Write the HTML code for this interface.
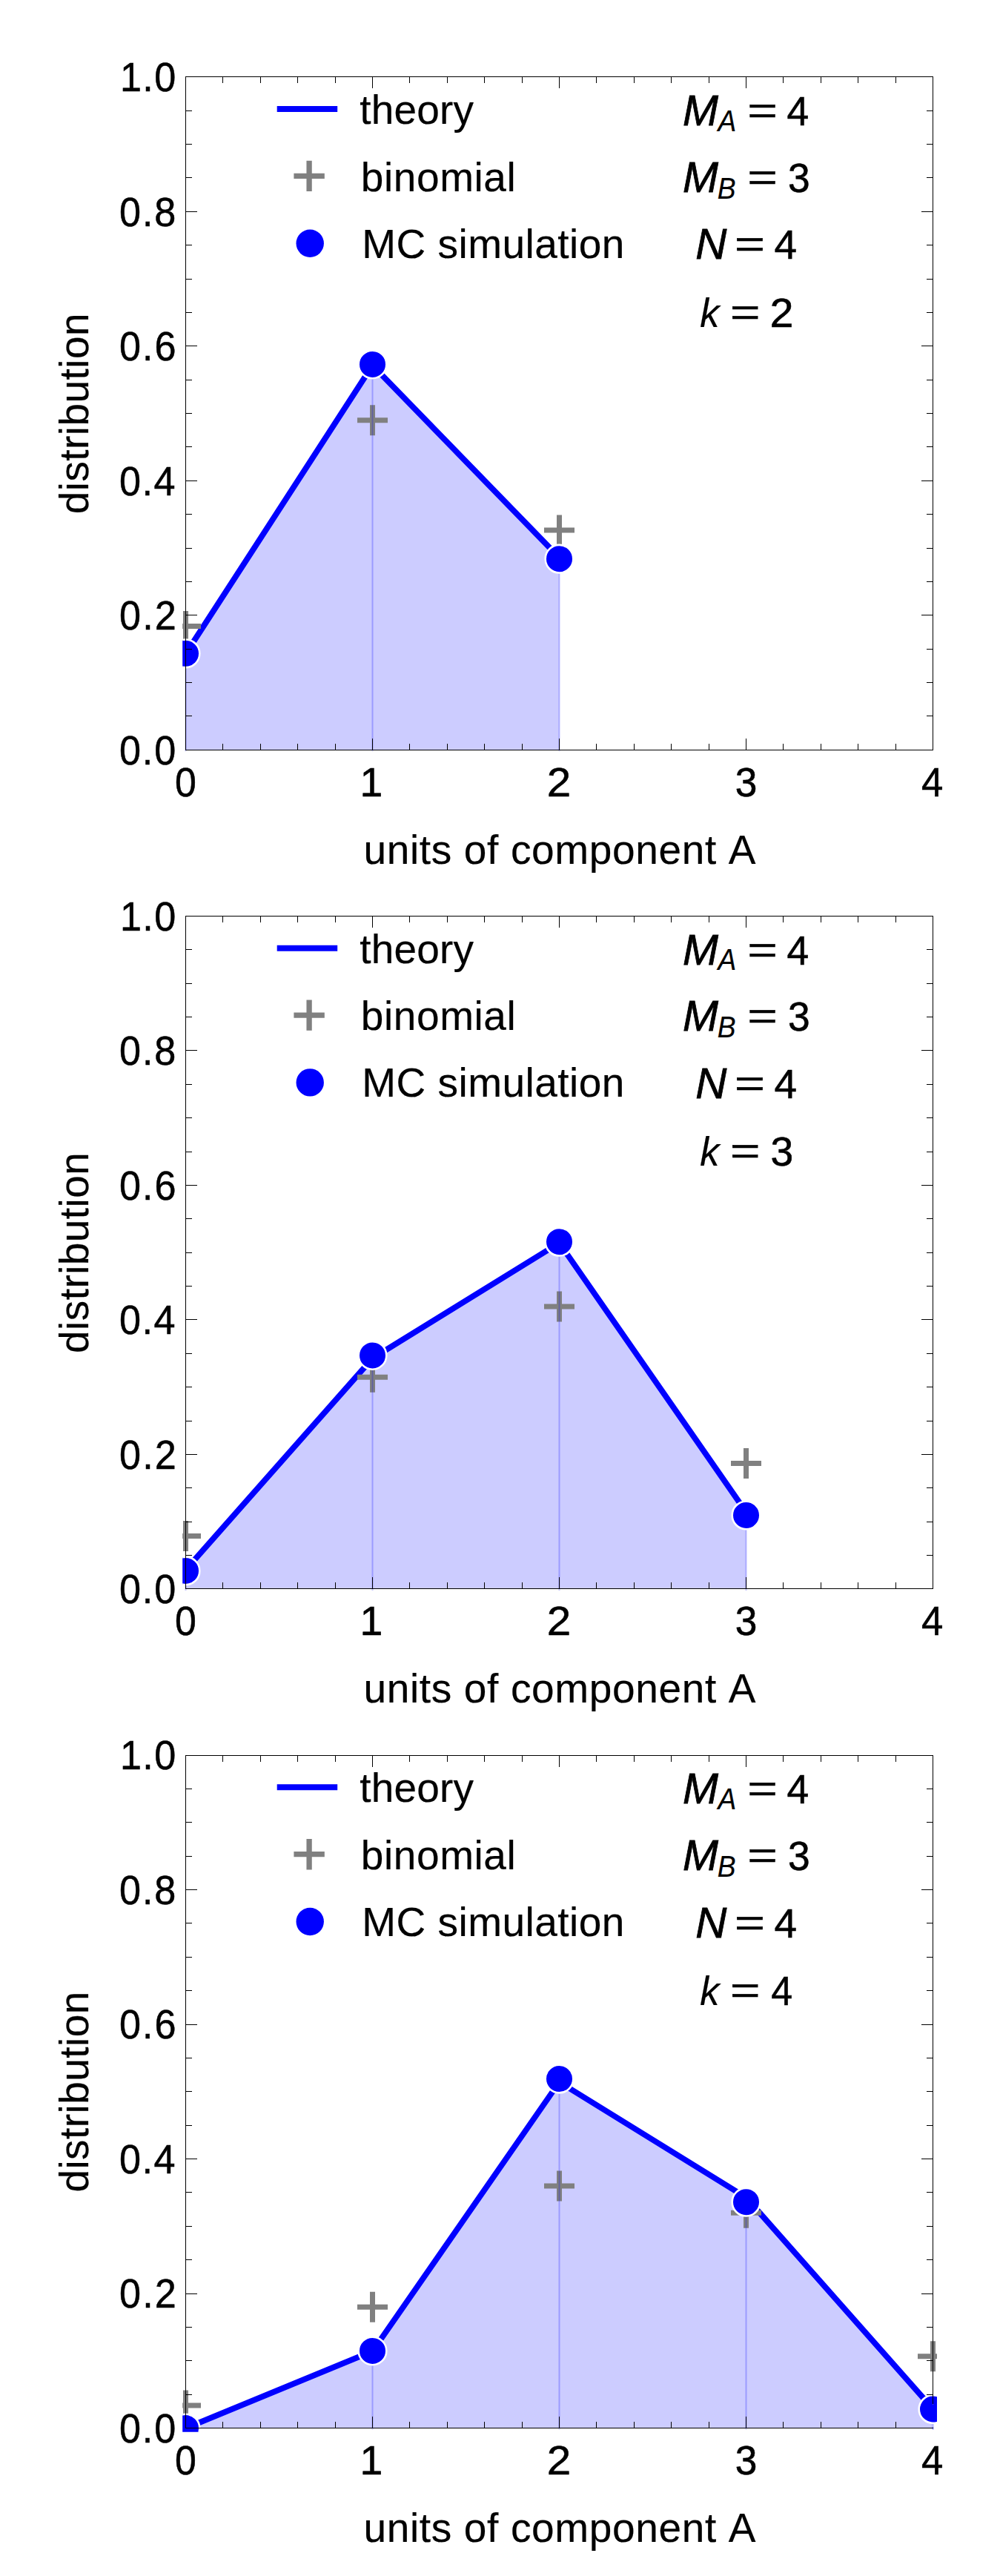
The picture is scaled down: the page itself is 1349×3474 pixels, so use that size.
<!DOCTYPE html>
<html lang="en"><head><meta charset="utf-8"><title>distribution plots</title>
<style>html,body{margin:0;padding:0;background:#fff}svg{display:block}text{font-family:"Liberation Sans",Arial,Helvetica,sans-serif;font-size:55px;fill:#000;font-kerning:none;stroke:#000;stroke-width:0.2px}.d{stroke-width:0.55px}.b{stroke-width:0.8px}.it{font-style:italic}</style></head><body>
<svg width="1349" height="3474" viewBox="0 0 1349 3474">
<rect width="1349" height="3474" fill="#fff"/>
<defs>
<clipPath id="cp0"><rect x="246.2" y="99.0" width="1017.8" height="917.7"/></clipPath>
<clipPath id="cp1"><rect x="246.2" y="1231.0" width="1017.8" height="916.7"/></clipPath>
<clipPath id="cp2"><rect x="246.2" y="2363.0" width="1017.8" height="916.7"/></clipPath>
<clipPath id="cq"><rect x="1256" y="3242.4" width="8" height="37.3"/></clipPath>
</defs>
<g>
<g clip-path="url(#cp0)">
<polygon points="250.5,1011.3 250.5,881.7 502.5,492.7 754.5,752.0 754.5,1011.3" fill="#ccccff"/>
<polyline points="250.5,881.7 502.5,492.7 754.5,752.0" fill="none" stroke="#0000ff" stroke-width="7.8" stroke-linejoin="round"/>
<path d="M230.0 844.6H271.0M250.5 824.1V865.1" stroke="#808080" stroke-width="7" fill="none"/>
<path d="M482.0 566.8H523.0M502.5 546.3V587.3" stroke="#808080" stroke-width="7" fill="none"/>
<path d="M734.0 715.0H775.0M754.5 694.5V735.5" stroke="#808080" stroke-width="7" fill="none"/>
<line x1="250.5" y1="881.3" x2="250.5" y2="1013.3" stroke="#0000ff" stroke-opacity="0.24" stroke-width="2"/>
<line x1="502.5" y1="491.4" x2="502.5" y2="1013.3" stroke="#0000ff" stroke-opacity="0.24" stroke-width="2"/>
<line x1="754.5" y1="753.7" x2="754.5" y2="1013.3" stroke="#0000ff" stroke-opacity="0.24" stroke-width="2"/>
<circle cx="250.5" cy="881.3" r="18.8" fill="#0000ff" stroke="#fff" stroke-width="2.6"/>
<circle cx="502.5" cy="491.4" r="18.8" fill="#0000ff" stroke="#fff" stroke-width="2.6"/>
<circle cx="754.5" cy="753.7" r="18.8" fill="#0000ff" stroke="#fff" stroke-width="2.6"/>
</g>
<path d="M250.5 1011.5v-15.5M250.5 103.5v15.5M300.5 1011.5v-8.5M300.5 103.5v8.5M351.5 1011.5v-8.5M351.5 103.5v8.5M401.5 1011.5v-8.5M401.5 103.5v8.5M452.5 1011.5v-8.5M452.5 103.5v8.5M502.5 1011.5v-15.5M502.5 103.5v15.5M552.5 1011.5v-8.5M552.5 103.5v8.5M603.5 1011.5v-8.5M603.5 103.5v8.5M653.5 1011.5v-8.5M653.5 103.5v8.5M704.5 1011.5v-8.5M704.5 103.5v8.5M754.5 1011.5v-15.5M754.5 103.5v15.5M804.5 1011.5v-8.5M804.5 103.5v8.5M855.5 1011.5v-8.5M855.5 103.5v8.5M905.5 1011.5v-8.5M905.5 103.5v8.5M956.5 1011.5v-8.5M956.5 103.5v8.5M1006.5 1011.5v-15.5M1006.5 103.5v15.5M1056.5 1011.5v-8.5M1056.5 103.5v8.5M1107.5 1011.5v-8.5M1107.5 103.5v8.5M1157.5 1011.5v-8.5M1157.5 103.5v8.5M1208.5 1011.5v-8.5M1208.5 103.5v8.5M1258.5 1011.5v-15.5M1258.5 103.5v15.5M250.5 1011.5h15.5M1258.5 1011.5h-15.5M250.5 965.5h8.5M1258.5 965.5h-8.5M250.5 920.5h8.5M1258.5 920.5h-8.5M250.5 875.5h8.5M1258.5 875.5h-8.5M250.5 829.5h15.5M1258.5 829.5h-15.5M250.5 784.5h8.5M1258.5 784.5h-8.5M250.5 739.5h8.5M1258.5 739.5h-8.5M250.5 693.5h8.5M1258.5 693.5h-8.5M250.5 648.5h15.5M1258.5 648.5h-15.5M250.5 602.5h8.5M1258.5 602.5h-8.5M250.5 557.5h8.5M1258.5 557.5h-8.5M250.5 512.5h8.5M1258.5 512.5h-8.5M250.5 466.5h15.5M1258.5 466.5h-15.5M250.5 421.5h8.5M1258.5 421.5h-8.5M250.5 376.5h8.5M1258.5 376.5h-8.5M250.5 330.5h8.5M1258.5 330.5h-8.5M250.5 285.5h15.5M1258.5 285.5h-15.5M250.5 239.5h8.5M1258.5 239.5h-8.5M250.5 194.5h8.5M1258.5 194.5h-8.5M250.5 149.5h8.5M1258.5 149.5h-8.5M250.5 103.5h15.5M1258.5 103.5h-15.5" stroke="#000" stroke-width="1" fill="none"/>
<rect x="250.5" y="103.5" width="1008.0" height="908.0" fill="none" stroke="#000" stroke-width="1"/>
<text transform="translate(163.10,1030.60) scale(0.940,1)" x="-2.17" y="0" class="d" style="font-size:55.5px;letter-spacing:1.890px">0.0</text>
<text transform="translate(163.10,849.10) scale(0.940,1)" x="-2.17" y="0" class="d" style="font-size:55.5px;letter-spacing:2.201px">0.2</text>
<text transform="translate(163.10,667.60) scale(0.940,1)" x="-2.17" y="0" class="d" style="font-size:55.5px;letter-spacing:1.619px">0.4</text>
<text transform="translate(163.10,486.10) scale(0.940,1)" x="-2.17" y="0" class="d" style="font-size:55.5px;letter-spacing:2.025px">0.6</text>
<text transform="translate(163.10,304.60) scale(0.940,1)" x="-2.17" y="0" class="d" style="font-size:55.5px;letter-spacing:2.011px">0.8</text>
<text transform="translate(165.90,123.10) scale(0.940,1)" x="-4.23" y="0" class="d" style="font-size:55.5px;letter-spacing:1.430px">1.0</text>
<text transform="translate(236.07,1073.50) scale(0.935,1)" class="d" style="font-size:55.5px">0</text>
<text x="501.00" y="1073.50" text-anchor="middle" class="d" style="font-size:55.5px">1</text>
<text transform="translate(737.86,1073.50) scale(1.052,1)" class="d" style="font-size:55.5px">2</text>
<text transform="translate(991.67,1073.50) scale(0.961,1)" class="d" style="font-size:55.5px">3</text>
<text transform="translate(1242.99,1073.50) scale(0.951,1)" class="d" style="font-size:55.5px">4</text>
<text x="490.43" y="1164.60" style="letter-spacing:0.652px">units of component A</text>
<text transform="translate(119.4,691.0) rotate(-90)" x="-2.31" y="0" style="letter-spacing:0.446px">distribution</text>
<line x1="373.7" y1="147.0" x2="455.2" y2="147.0" stroke="#0000ff" stroke-width="8"/>
<path d="M396.4 237.4H437.8M417.1 216.7V258.1" stroke="#808080" stroke-width="7.3" fill="none"/>
<circle cx="418.2" cy="328.2" r="18.7" fill="#0000ff"/>
<text x="485.17" y="167.00" style="letter-spacing:0.216px">theory</text>
<text x="486.86" y="257.60" style="letter-spacing:0.571px">binomial</text>
<text x="488.29" y="347.50" style="letter-spacing:0.472px">MC simulation</text>
<text transform="translate(920.93,168.90) scale(1.002,1)" class="it b" style="font-size:57.5px">M</text><text transform="translate(968.53,176.60) scale(0.895,1)" class="it" style="font-size:41.5px">A</text><text transform="translate(1008.44,166.98) scale(1.348,1)" style="font-size:51px;stroke-width:0.7px">=</text><text transform="translate(1061.57,168.90) scale(0.971,1)" class="d">4</text>
<text transform="translate(920.93,258.60) scale(1.002,1)" class="it b" style="font-size:57.5px">M</text><text transform="translate(967.76,267.50) scale(0.897,1)" class="it" style="font-size:41.5px">B</text><text transform="translate(1008.44,256.68) scale(1.348,1)" style="font-size:51px;stroke-width:0.7px">=</text><text transform="translate(1062.97,258.60) scale(0.970,1)" class="d">3</text>
<text transform="translate(938.21,349.40) scale(1.013,1)" class="it b" style="font-size:57.5px">N</text><text transform="translate(991.21,347.48) scale(1.360,1)" style="font-size:51px;stroke-width:0.7px">=</text><text transform="translate(1044.44,349.40) scale(0.999,1)" class="d">4</text>
<text transform="translate(944.23,440.50) scale(0.952,1)" class="it">k</text><text transform="translate(985.34,438.58) scale(1.348,1)" style="font-size:51px;stroke-width:0.7px">=</text><text transform="translate(1038.61,440.50) scale(1.046,1)" class="d">2</text>
</g>
<g>
<g clip-path="url(#cp1)">
<polygon points="250.5,2142.9 250.5,2117.0 502.5,1831.8 754.5,1676.2 1006.5,2039.2 1006.5,2142.9" fill="#ccccff"/>
<polyline points="250.5,2117.0 502.5,1831.8 754.5,1676.2 1006.5,2039.2" fill="none" stroke="#0000ff" stroke-width="7.8" stroke-linejoin="round"/>
<path d="M230.0 2071.5H271.0M250.5 2051.0V2092.0" stroke="#808080" stroke-width="7" fill="none"/>
<path d="M482.0 1857.2H523.0M502.5 1836.7V1877.7" stroke="#808080" stroke-width="7" fill="none"/>
<path d="M734.0 1762.0H775.0M754.5 1741.5V1782.5" stroke="#808080" stroke-width="7" fill="none"/>
<path d="M986.0 1973.6H1027.0M1006.5 1953.1V1994.1" stroke="#808080" stroke-width="7" fill="none"/>
<line x1="250.5" y1="2118.4" x2="250.5" y2="2144.9" stroke="#0000ff" stroke-opacity="0.24" stroke-width="2"/>
<line x1="502.5" y1="1827.9" x2="502.5" y2="2144.9" stroke="#0000ff" stroke-opacity="0.24" stroke-width="2"/>
<line x1="754.5" y1="1674.7" x2="754.5" y2="2144.9" stroke="#0000ff" stroke-opacity="0.24" stroke-width="2"/>
<line x1="1006.5" y1="2043.5" x2="1006.5" y2="2144.9" stroke="#0000ff" stroke-opacity="0.24" stroke-width="2"/>
<circle cx="250.5" cy="2118.4" r="18.8" fill="#0000ff" stroke="#fff" stroke-width="2.6"/>
<circle cx="502.5" cy="1827.9" r="18.8" fill="#0000ff" stroke="#fff" stroke-width="2.6"/>
<circle cx="754.5" cy="1674.7" r="18.8" fill="#0000ff" stroke="#fff" stroke-width="2.6"/>
<circle cx="1006.5" cy="2043.5" r="18.8" fill="#0000ff" stroke="#fff" stroke-width="2.6"/>
</g>
<path d="M250.5 2142.5v-15.5M250.5 1235.5v15.5M300.5 2142.5v-8.5M300.5 1235.5v8.5M351.5 2142.5v-8.5M351.5 1235.5v8.5M401.5 2142.5v-8.5M401.5 1235.5v8.5M452.5 2142.5v-8.5M452.5 1235.5v8.5M502.5 2142.5v-15.5M502.5 1235.5v15.5M552.5 2142.5v-8.5M552.5 1235.5v8.5M603.5 2142.5v-8.5M603.5 1235.5v8.5M653.5 2142.5v-8.5M653.5 1235.5v8.5M704.5 2142.5v-8.5M704.5 1235.5v8.5M754.5 2142.5v-15.5M754.5 1235.5v15.5M804.5 2142.5v-8.5M804.5 1235.5v8.5M855.5 2142.5v-8.5M855.5 1235.5v8.5M905.5 2142.5v-8.5M905.5 1235.5v8.5M956.5 2142.5v-8.5M956.5 1235.5v8.5M1006.5 2142.5v-15.5M1006.5 1235.5v15.5M1056.5 2142.5v-8.5M1056.5 1235.5v8.5M1107.5 2142.5v-8.5M1107.5 1235.5v8.5M1157.5 2142.5v-8.5M1157.5 1235.5v8.5M1208.5 2142.5v-8.5M1208.5 1235.5v8.5M1258.5 2142.5v-15.5M1258.5 1235.5v15.5M250.5 2142.5h15.5M1258.5 2142.5h-15.5M250.5 2097.5h8.5M1258.5 2097.5h-8.5M250.5 2052.5h8.5M1258.5 2052.5h-8.5M250.5 2006.5h8.5M1258.5 2006.5h-8.5M250.5 1961.5h15.5M1258.5 1961.5h-15.5M250.5 1916.5h8.5M1258.5 1916.5h-8.5M250.5 1870.5h8.5M1258.5 1870.5h-8.5M250.5 1825.5h8.5M1258.5 1825.5h-8.5M250.5 1779.5h15.5M1258.5 1779.5h-15.5M250.5 1734.5h8.5M1258.5 1734.5h-8.5M250.5 1689.5h8.5M1258.5 1689.5h-8.5M250.5 1643.5h8.5M1258.5 1643.5h-8.5M250.5 1598.5h15.5M1258.5 1598.5h-15.5M250.5 1553.5h8.5M1258.5 1553.5h-8.5M250.5 1507.5h8.5M1258.5 1507.5h-8.5M250.5 1462.5h8.5M1258.5 1462.5h-8.5M250.5 1416.5h15.5M1258.5 1416.5h-15.5M250.5 1371.5h8.5M1258.5 1371.5h-8.5M250.5 1326.5h8.5M1258.5 1326.5h-8.5M250.5 1280.5h8.5M1258.5 1280.5h-8.5M250.5 1235.5h15.5M1258.5 1235.5h-15.5" stroke="#000" stroke-width="1" fill="none"/>
<rect x="250.5" y="1235.5" width="1008.0" height="907.0" fill="none" stroke="#000" stroke-width="1"/>
<text transform="translate(163.10,2162.25) scale(0.940,1)" x="-2.17" y="0" class="d" style="font-size:55.5px;letter-spacing:1.890px">0.0</text>
<text transform="translate(163.10,1980.75) scale(0.940,1)" x="-2.17" y="0" class="d" style="font-size:55.5px;letter-spacing:2.201px">0.2</text>
<text transform="translate(163.10,1799.25) scale(0.940,1)" x="-2.17" y="0" class="d" style="font-size:55.5px;letter-spacing:1.619px">0.4</text>
<text transform="translate(163.10,1617.75) scale(0.940,1)" x="-2.17" y="0" class="d" style="font-size:55.5px;letter-spacing:2.025px">0.6</text>
<text transform="translate(163.10,1436.25) scale(0.940,1)" x="-2.17" y="0" class="d" style="font-size:55.5px;letter-spacing:2.011px">0.8</text>
<text transform="translate(165.90,1254.75) scale(0.940,1)" x="-4.23" y="0" class="d" style="font-size:55.5px;letter-spacing:1.430px">1.0</text>
<text transform="translate(236.07,2205.15) scale(0.935,1)" class="d" style="font-size:55.5px">0</text>
<text x="501.00" y="2205.15" text-anchor="middle" class="d" style="font-size:55.5px">1</text>
<text transform="translate(737.86,2205.15) scale(1.052,1)" class="d" style="font-size:55.5px">2</text>
<text transform="translate(991.67,2205.15) scale(0.961,1)" class="d" style="font-size:55.5px">3</text>
<text transform="translate(1242.99,2205.15) scale(0.951,1)" class="d" style="font-size:55.5px">4</text>
<text x="490.43" y="2296.25" style="letter-spacing:0.652px">units of component A</text>
<text transform="translate(119.4,1822.7) rotate(-90)" x="-2.31" y="0" style="letter-spacing:0.446px">distribution</text>
<line x1="373.7" y1="1278.7" x2="455.2" y2="1278.7" stroke="#0000ff" stroke-width="8"/>
<path d="M396.4 1369.1H437.8M417.1 1348.4V1389.8" stroke="#808080" stroke-width="7.3" fill="none"/>
<circle cx="418.2" cy="1459.9" r="18.7" fill="#0000ff"/>
<text x="485.17" y="1298.65" style="letter-spacing:0.216px">theory</text>
<text x="486.86" y="1389.25" style="letter-spacing:0.571px">binomial</text>
<text x="488.29" y="1479.15" style="letter-spacing:0.472px">MC simulation</text>
<text transform="translate(920.93,1300.55) scale(1.002,1)" class="it b" style="font-size:57.5px">M</text><text transform="translate(968.53,1308.25) scale(0.895,1)" class="it" style="font-size:41.5px">A</text><text transform="translate(1008.44,1298.63) scale(1.348,1)" style="font-size:51px;stroke-width:0.7px">=</text><text transform="translate(1061.57,1300.55) scale(0.971,1)" class="d">4</text>
<text transform="translate(920.93,1390.25) scale(1.002,1)" class="it b" style="font-size:57.5px">M</text><text transform="translate(967.76,1399.15) scale(0.897,1)" class="it" style="font-size:41.5px">B</text><text transform="translate(1008.44,1388.33) scale(1.348,1)" style="font-size:51px;stroke-width:0.7px">=</text><text transform="translate(1062.97,1390.25) scale(0.970,1)" class="d">3</text>
<text transform="translate(938.21,1481.05) scale(1.013,1)" class="it b" style="font-size:57.5px">N</text><text transform="translate(991.21,1479.13) scale(1.360,1)" style="font-size:51px;stroke-width:0.7px">=</text><text transform="translate(1044.44,1481.05) scale(0.999,1)" class="d">4</text>
<text transform="translate(944.23,1572.15) scale(0.952,1)" class="it">k</text><text transform="translate(985.34,1570.23) scale(1.348,1)" style="font-size:51px;stroke-width:0.7px">=</text><text transform="translate(1039.40,1572.15) scale(1.005,1)" class="d">3</text>
</g>
<g>
<g clip-path="url(#cp2)">
<polygon points="250.5,3274.6 250.5,3274.6 502.5,3170.9 754.5,2807.9 1006.5,2963.5 1258.5,3248.7 1258.5,3274.6" fill="#ccccff"/>
<polyline points="250.5,3274.6 502.5,3170.9 754.5,2807.9 1006.5,2963.5 1258.5,3248.7" fill="none" stroke="#0000ff" stroke-width="7.8" stroke-linejoin="round"/>
<path d="M230.0 3244.0H271.0M250.5 3223.5V3264.5" stroke="#808080" stroke-width="7" fill="none"/>
<path d="M482.0 3111.3H523.0M502.5 3090.8V3131.8" stroke="#808080" stroke-width="7" fill="none"/>
<path d="M734.0 2948.0H775.0M754.5 2927.5V2968.5" stroke="#808080" stroke-width="7" fill="none"/>
<path d="M986.0 2984.3H1027.0M1006.5 2963.8V3004.8" stroke="#808080" stroke-width="7" fill="none"/>
<path d="M1238.0 3177.8H1279.0M1258.5 3157.3V3198.3" stroke="#808080" stroke-width="7" fill="none"/>
<line x1="250.5" y1="3274.6" x2="250.5" y2="3276.6" stroke="#0000ff" stroke-opacity="0.24" stroke-width="2"/>
<line x1="502.5" y1="3170.4" x2="502.5" y2="3276.6" stroke="#0000ff" stroke-opacity="0.24" stroke-width="2"/>
<line x1="754.5" y1="2803.6" x2="754.5" y2="3276.6" stroke="#0000ff" stroke-opacity="0.24" stroke-width="2"/>
<line x1="1006.5" y1="2969.7" x2="1006.5" y2="3276.6" stroke="#0000ff" stroke-opacity="0.24" stroke-width="2"/>
<line x1="1258.5" y1="3249.0" x2="1258.5" y2="3276.6" stroke="#0000ff" stroke-opacity="0.24" stroke-width="2"/>
<circle cx="250.5" cy="3274.6" r="18.8" fill="#0000ff" stroke="#fff" stroke-width="2.6"/>
<circle cx="502.5" cy="3170.4" r="18.8" fill="#0000ff" stroke="#fff" stroke-width="2.6"/>
<circle cx="754.5" cy="2803.6" r="18.8" fill="#0000ff" stroke="#fff" stroke-width="2.6"/>
<circle cx="1006.5" cy="2969.7" r="18.8" fill="#0000ff" stroke="#fff" stroke-width="2.6"/>
<circle cx="1258.5" cy="3249.0" r="18.8" fill="#0000ff" stroke="#fff" stroke-width="2.6"/>
</g>
<path d="M250.5 3274.5v-15.5M250.5 2367.5v15.5M300.5 3274.5v-8.5M300.5 2367.5v8.5M351.5 3274.5v-8.5M351.5 2367.5v8.5M401.5 3274.5v-8.5M401.5 2367.5v8.5M452.5 3274.5v-8.5M452.5 2367.5v8.5M502.5 3274.5v-15.5M502.5 2367.5v15.5M552.5 3274.5v-8.5M552.5 2367.5v8.5M603.5 3274.5v-8.5M603.5 2367.5v8.5M653.5 3274.5v-8.5M653.5 2367.5v8.5M704.5 3274.5v-8.5M704.5 2367.5v8.5M754.5 3274.5v-15.5M754.5 2367.5v15.5M804.5 3274.5v-8.5M804.5 2367.5v8.5M855.5 3274.5v-8.5M855.5 2367.5v8.5M905.5 3274.5v-8.5M905.5 2367.5v8.5M956.5 3274.5v-8.5M956.5 2367.5v8.5M1006.5 3274.5v-15.5M1006.5 2367.5v15.5M1056.5 3274.5v-8.5M1056.5 2367.5v8.5M1107.5 3274.5v-8.5M1107.5 2367.5v8.5M1157.5 3274.5v-8.5M1157.5 2367.5v8.5M1208.5 3274.5v-8.5M1208.5 2367.5v8.5M1258.5 3274.5v-15.5M1258.5 2367.5v15.5M250.5 3274.5h15.5M1258.5 3274.5h-15.5M250.5 3229.5h8.5M1258.5 3229.5h-8.5M250.5 3183.5h8.5M1258.5 3183.5h-8.5M250.5 3138.5h8.5M1258.5 3138.5h-8.5M250.5 3093.5h15.5M1258.5 3093.5h-15.5M250.5 3047.5h8.5M1258.5 3047.5h-8.5M250.5 3002.5h8.5M1258.5 3002.5h-8.5M250.5 2956.5h8.5M1258.5 2956.5h-8.5M250.5 2911.5h15.5M1258.5 2911.5h-15.5M250.5 2866.5h8.5M1258.5 2866.5h-8.5M250.5 2820.5h8.5M1258.5 2820.5h-8.5M250.5 2775.5h8.5M1258.5 2775.5h-8.5M250.5 2730.5h15.5M1258.5 2730.5h-15.5M250.5 2684.5h8.5M1258.5 2684.5h-8.5M250.5 2639.5h8.5M1258.5 2639.5h-8.5M250.5 2593.5h8.5M1258.5 2593.5h-8.5M250.5 2548.5h15.5M1258.5 2548.5h-15.5M250.5 2503.5h8.5M1258.5 2503.5h-8.5M250.5 2457.5h8.5M1258.5 2457.5h-8.5M250.5 2412.5h8.5M1258.5 2412.5h-8.5M250.5 2367.5h15.5M1258.5 2367.5h-15.5" stroke="#000" stroke-width="1" fill="none"/>
<rect x="250.5" y="2367.5" width="1008.0" height="907.0" fill="none" stroke="#000" stroke-width="1"/>
<g clip-path="url(#cq)"><rect x="1257.8" y="3242" width="1.5" height="31.6" fill="#fff"/><line x1="1258.5" y1="3249.0" x2="1258.5" y2="3276.6" stroke="#0000ff" stroke-opacity="0.24" stroke-width="2"/><circle cx="1258.5" cy="3249.0" r="18.8" fill="#0000ff" stroke="#fff" stroke-width="2.6"/></g>
<text transform="translate(163.10,3293.90) scale(0.940,1)" x="-2.17" y="0" class="d" style="font-size:55.5px;letter-spacing:1.890px">0.0</text>
<text transform="translate(163.10,3112.40) scale(0.940,1)" x="-2.17" y="0" class="d" style="font-size:55.5px;letter-spacing:2.201px">0.2</text>
<text transform="translate(163.10,2930.90) scale(0.940,1)" x="-2.17" y="0" class="d" style="font-size:55.5px;letter-spacing:1.619px">0.4</text>
<text transform="translate(163.10,2749.40) scale(0.940,1)" x="-2.17" y="0" class="d" style="font-size:55.5px;letter-spacing:2.025px">0.6</text>
<text transform="translate(163.10,2567.90) scale(0.940,1)" x="-2.17" y="0" class="d" style="font-size:55.5px;letter-spacing:2.011px">0.8</text>
<text transform="translate(165.90,2386.40) scale(0.940,1)" x="-4.23" y="0" class="d" style="font-size:55.5px;letter-spacing:1.430px">1.0</text>
<text transform="translate(236.07,3336.80) scale(0.935,1)" class="d" style="font-size:55.5px">0</text>
<text x="501.00" y="3336.80" text-anchor="middle" class="d" style="font-size:55.5px">1</text>
<text transform="translate(737.86,3336.80) scale(1.052,1)" class="d" style="font-size:55.5px">2</text>
<text transform="translate(991.67,3336.80) scale(0.961,1)" class="d" style="font-size:55.5px">3</text>
<text transform="translate(1242.99,3336.80) scale(0.951,1)" class="d" style="font-size:55.5px">4</text>
<text x="490.43" y="3427.90" style="letter-spacing:0.652px">units of component A</text>
<text transform="translate(119.4,2954.3) rotate(-90)" x="-2.31" y="0" style="letter-spacing:0.446px">distribution</text>
<line x1="373.7" y1="2410.3" x2="455.2" y2="2410.3" stroke="#0000ff" stroke-width="8"/>
<path d="M396.4 2500.7H437.8M417.1 2480.0V2521.4" stroke="#808080" stroke-width="7.3" fill="none"/>
<circle cx="418.2" cy="2591.5" r="18.7" fill="#0000ff"/>
<text x="485.17" y="2430.30" style="letter-spacing:0.216px">theory</text>
<text x="486.86" y="2520.90" style="letter-spacing:0.571px">binomial</text>
<text x="488.29" y="2610.80" style="letter-spacing:0.472px">MC simulation</text>
<text transform="translate(920.93,2432.20) scale(1.002,1)" class="it b" style="font-size:57.5px">M</text><text transform="translate(968.53,2439.90) scale(0.895,1)" class="it" style="font-size:41.5px">A</text><text transform="translate(1008.44,2430.28) scale(1.348,1)" style="font-size:51px;stroke-width:0.7px">=</text><text transform="translate(1061.57,2432.20) scale(0.971,1)" class="d">4</text>
<text transform="translate(920.93,2521.90) scale(1.002,1)" class="it b" style="font-size:57.5px">M</text><text transform="translate(967.76,2530.80) scale(0.897,1)" class="it" style="font-size:41.5px">B</text><text transform="translate(1008.44,2519.98) scale(1.348,1)" style="font-size:51px;stroke-width:0.7px">=</text><text transform="translate(1062.97,2521.90) scale(0.970,1)" class="d">3</text>
<text transform="translate(938.21,2612.70) scale(1.013,1)" class="it b" style="font-size:57.5px">N</text><text transform="translate(991.21,2610.78) scale(1.360,1)" style="font-size:51px;stroke-width:0.7px">=</text><text transform="translate(1044.44,2612.70) scale(0.999,1)" class="d">4</text>
<text transform="translate(944.23,2703.80) scale(0.952,1)" class="it">k</text><text transform="translate(985.34,2701.88) scale(1.348,1)" style="font-size:51px;stroke-width:0.7px">=</text><text transform="translate(1040.31,2703.80) scale(0.945,1)" class="d">4</text>
</g>
</svg></body></html>
